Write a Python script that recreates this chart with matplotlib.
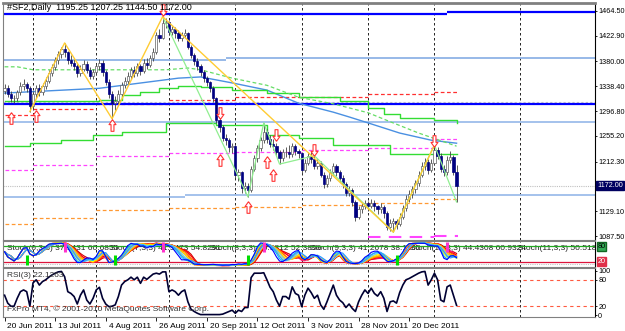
import numpy as np
import pandas as pd
import matplotlib
matplotlib.use("Agg")
import matplotlib.pyplot as plt
from matplotlib.transforms import blended_transform_factory, ScaledTranslation

plt.rcParams['font.family'] = ['Liberation Sans', 'DejaVu Sans']
plt.rcParams['font.size'] = 6

# daily bars of #SF2, 20 Jun 2011 .. 12 Jan 2012
opens = [1330, 1335, 1325, 1318, 1318, 1328, 1338, 1342, 1336, 1305,
         1325, 1335, 1328, 1338, 1348, 1360, 1370, 1382, 1392, 1400,
         1395, 1382, 1378, 1372, 1360, 1368, 1376, 1365, 1356, 1362,
         1372, 1378, 1362, 1345, 1325, 1310, 1314, 1325, 1340, 1348,
         1355, 1365, 1360, 1372, 1364, 1378, 1374, 1385, 1395, 1425,
         1420, 1445, 1446, 1430, 1434, 1428, 1420, 1425, 1428, 1405,
         1390, 1380, 1372, 1362, 1352, 1345, 1335, 1318, 1282, 1270,
         1252, 1248, 1236, 1238, 1190, 1194, 1168, 1172, 1165, 1200,
         1218, 1235, 1248, 1262, 1250, 1242, 1238, 1228, 1218, 1228,
         1228, 1225, 1238, 1230, 1226, 1198, 1210, 1222, 1216, 1205,
         1210, 1190, 1175, 1185, 1195, 1205, 1195, 1185, 1175, 1160,
         1165, 1145, 1120, 1132, 1138, 1142, 1138, 1143, 1137, 1132,
         1136, 1126, 1102, 1110, 1112, 1108, 1120, 1135, 1150, 1158,
         1166, 1176, 1190, 1205, 1212, 1198, 1210, 1232, 1222, 1200,
         1195, 1215, 1220, 1195.25]
highs = [1342, 1340, 1330, 1324, 1332, 1345, 1350, 1346, 1338, 1330,
         1340, 1342, 1344, 1354, 1366, 1376, 1388, 1398, 1405, 1411,
         1398, 1390, 1384, 1376, 1374, 1382, 1380, 1370, 1368, 1378,
         1384, 1382, 1366, 1350, 1330, 1322, 1332, 1345, 1354, 1362,
         1370, 1372, 1378, 1376, 1384, 1386, 1390, 1402, 1430, 1434,
         1455, 1452, 1448, 1440, 1438, 1432, 1430, 1434, 1430, 1408,
         1394, 1385, 1376, 1366, 1356, 1348, 1338, 1320, 1286, 1274,
         1258, 1252, 1244, 1240, 1200, 1196, 1178, 1176, 1204, 1224,
         1240, 1254, 1277, 1266, 1256, 1250, 1244, 1232, 1234, 1236,
         1240, 1243, 1242, 1234, 1228, 1216, 1228, 1230, 1222, 1216,
         1214, 1194, 1190, 1200, 1210, 1208, 1198, 1190, 1178, 1172,
         1168, 1148, 1138, 1144, 1148, 1146, 1150, 1147, 1140, 1142,
         1140, 1130, 1116, 1118, 1116, 1126, 1140, 1156, 1164, 1172,
         1182, 1196, 1212, 1218, 1216, 1216, 1240, 1236, 1226, 1206,
         1222, 1230, 1224, 1207.25]
lows = [1325, 1320, 1312, 1310, 1314, 1324, 1332, 1328, 1296, 1300,
        1318, 1322, 1324, 1334, 1344, 1355, 1366, 1376, 1386, 1388,
        1376, 1372, 1366, 1354, 1356, 1364, 1360, 1350, 1350, 1358,
        1366, 1356, 1340, 1318, 1284, 1298, 1308, 1320, 1336, 1342,
        1350, 1354, 1356, 1358, 1360, 1368, 1370, 1380, 1392, 1412,
        1418, 1436, 1424, 1424, 1420, 1414, 1415, 1420, 1400, 1385,
        1374, 1366, 1356, 1346, 1338, 1328, 1312, 1276, 1262, 1246,
        1240, 1228, 1226, 1184, 1180, 1160, 1160, 1153, 1162, 1196,
        1212, 1230, 1244, 1244, 1236, 1232, 1222, 1208, 1214, 1220,
        1218, 1220, 1224, 1218, 1192, 1194, 1206, 1210, 1200, 1200,
        1186, 1168, 1170, 1180, 1190, 1188, 1178, 1168, 1154, 1155,
        1138, 1112, 1116, 1126, 1132, 1130, 1134, 1130, 1124, 1126,
        1118, 1098, 1096, 1094, 1100, 1104, 1116, 1130, 1145, 1152,
        1160, 1172, 1186, 1198, 1192, 1194, 1206, 1216, 1194, 1188,
        1190, 1210, 1190, 1144.5]
closes = [1335, 1325, 1318, 1318, 1328, 1338, 1342, 1336, 1305, 1325,
          1335, 1328, 1338, 1348, 1360, 1370, 1382, 1392, 1400, 1395,
          1382, 1378, 1372, 1360, 1368, 1376, 1365, 1356, 1362, 1372,
          1378, 1362, 1345, 1325, 1310, 1314, 1325, 1340, 1348, 1355,
          1365, 1360, 1372, 1364, 1378, 1374, 1385, 1395, 1425, 1420,
          1445, 1446, 1430, 1434, 1428, 1420, 1425, 1428, 1405, 1390,
          1380, 1372, 1362, 1352, 1345, 1335, 1318, 1282, 1270, 1252,
          1248, 1236, 1238, 1190, 1194, 1168, 1172, 1165, 1200, 1218,
          1235, 1248, 1262, 1250, 1242, 1238, 1228, 1218, 1228, 1228,
          1225, 1238, 1230, 1226, 1198, 1210, 1222, 1216, 1205, 1210,
          1190, 1175, 1185, 1195, 1205, 1195, 1185, 1175, 1160, 1165,
          1145, 1120, 1132, 1138, 1142, 1138, 1143, 1137, 1132, 1136,
          1126, 1102, 1110, 1112, 1108, 1120, 1135, 1150, 1158, 1166,
          1176, 1190, 1205, 1212, 1198, 1210, 1232, 1222, 1200, 1195,
          1215, 1220, 1195.25, 1172]

rsi = [45, 27, 20, 20, 38, 53, 57, 53, 20, 73,
       80, 68, 76, 80, 86, 91, 95, 98, 99, 87,
       53, 49, 42, 25, 45, 57, 34, 25, 38, 57,
       63, 38, 25, 19, 20, 23, 42, 68, 76, 80,
       86, 80, 86, 72, 86, 81, 87, 93, 95, 93,
       98, 98, 53, 57, 53, 45, 53, 57, 30, 13,
       8, 4, 1, 1, 1, 1, 1, 1, 1, 2,
       5, 8, 11, 4, 11, 8, 17, 17, 85, 95,
       95, 95, 96, 80, 63, 53, 34, 20, 42, 42,
       36, 64, 49, 45, 19, 45, 61, 51, 38, 45,
       23, 13, 30, 49, 68, 45, 34, 28, 17, 25,
       15, 8, 30, 45, 57, 49, 61, 49, 43, 53,
       38, 8, 30, 32, 27, 51, 68, 80, 83, 87,
       91, 95, 98, 99, 68, 80, 95, 80, 34, 30,
       64, 68, 45, 22]

date_idx = [0, 16, 32, 48, 64, 80, 96, 112, 128]
date_labels = ["20 Jun 2011", "13 Jul 2011", "4 Aug 2011", "26 Aug 2011", "20 Sep 2011",
               "12 Oct 2011", "3 Nov 2011", "28 Nov 2011", "20 Dec 2011"]
month_idx = [9, 29, 52, 73, 94, 115, 136, 163]
price_ticks = [1464.50, 1422.90, 1380.00, 1338.40, 1296.80, 1255.20, 1212.30, 1129.10, 1087.50]

# monthly levels (Jun .. Jan)
month_start = [0, 9, 29, 52, 73, 94, 115, 136]
month_end = [9, 29, 52, 73, 94, 115, 136, 143.5]
red_lvl = [1290, 1300, 1308, 1315, 1320, 1320, 1325, 1329]
magenta_lvl = [1198, 1206, 1221, 1226, 1229, 1232, 1235, 1250]
orange_lvl = [1108, 1118, 1131, 1134, 1136, 1139, 1143, 1150]
low_magenta_lvl = [1086, 1087.5]

# full-width levels
blue_lvl_top = [1460.3, 1462.0]
blue_lvl_mid = [1308.2, 1309.2]
blue_step = [-0.5, 140, 186.8]
lblue_top = [1382.4, 1385.0]
lblue_top_step = [-0.5, 70, 186.8]
lblue_mid = 1278.5
lblue_low = [1152.8, 1156.2]
lblue_low_step = [-0.5, 57, 186.8]
ask_lvl = 1312.5

# moving averages
ma_blue_idx = [0, 30, 55, 62, 72, 83, 93, 104, 109, 115, 125, 135, 143]
ma_blue = [1327, 1335, 1352, 1354, 1344, 1332, 1310, 1295, 1287, 1277, 1260, 1248, 1243]
green_up_idx = [0, 30, 37, 43, 49, 55, 62, 72, 83, 93, 106, 115, 120, 125, 136, 143]
green_up = [1314, 1315, 1324, 1329, 1335, 1339, 1337, 1332, 1327, 1320, 1314, 1302, 1292, 1285, 1282, 1277]
green_lo_idx = [0, 8, 18, 28, 37, 51, 67, 83, 93, 104, 122, 143]
green_lo = [1238, 1243, 1248, 1257, 1262, 1277, 1274, 1257, 1252, 1240, 1225, 1225]
green_dash_idx = [0, 4, 9, 51, 58, 62, 72, 83, 93, 104, 115, 122, 131, 143]
green_dash = [1371, 1371, 1366, 1366, 1369, 1366, 1352, 1340, 1320, 1309, 1294, 1279, 1260, 1238]

# zigzags (pivot bars)
yellow_piv = [8, 19, 34, 50, 123, 136]
yellow_kind = "LHLHLH"
lgreen_piv = [50, 77, 82, 87, 98, 123, 136, 143]
lgreen_kind = "HLHLHLHL"

# arrow signals
up_sig_idx = [2, 10, 34, 68, 77, 83, 85]
up_sig_price = [1285, 1289, 1274, 1215, 1136, 1212, 1190]
dn_sig_idx = [50, 68, 86, 98, 136]
dn_sig_price = [1466, 1294, 1257, 1232, 1246]

# stochastic pane
stoch_periods = [6, 7, 8, 9, 10, 11]
stoch_k_colors = ['#0000ff', '#00bfff', '#ffff00', '#ffa500', '#ff4500', '#ff1493']
stoch_d_colors = ['#3399ff', '#66ccff', '#ffd700', '#ff8c00', '#ff0000', '#cc0000']
stoch_text = ["Stoch(6,3,3) 37.1431 60.6855", "Stoch(7,3,3) 41.3473 54.8291",
              "Stoch(8,3,3) 46.5812 52.3859", "Stoch(9,3,3) 41.2678 38.1165",
              "Stoch(10,3,3) 44.4308 60.9324", "Stoch(11,3,3) 50.5189 61.2277"]
stoch_text_x = [0.007, 0.181, 0.350, 0.519, 0.688, 0.870]
sig_green_idx = [7, 35, 77, 124]
sig_magenta_idx = [19, 50, 82, 140]

W, H = 625, 331
fig = plt.figure(figsize=(W / 100, H / 100), dpi=100)


def box(l, t, r, b):
    return [l / W, 1 - b / H, (r - l) / W, (b - t) / H]


ax = fig.add_axes(box(3, 3, 595, 240))
ax_st = fig.add_axes(box(3, 241, 595, 267))
ax_rsi = fig.add_axes(box(3, 268, 595, 317))
xlim = (-0.5, 186.8)

for a in (ax, ax_st, ax_rsi):
    a.set_xlim(*xlim)
    a.yaxis.tick_right()
    a.tick_params(axis='y', length=1.5, width=0.6, pad=0.8, labelsize=5.2, colors='black')
    a.tick_params(axis='x', bottom=False, labelbottom=False)
    for s in a.spines.values():
        s.set_color('#808080')
        s.set_linewidth(0.8)
    a.spines['right'].set_color('black')
    for m in month_idx:
        a.axvline(m, color='black', lw=0.6, ls=(0, (3, 3)), zorder=1)
ax.spines['top'].set_linewidth(2)

# ---- main pane ----
x = np.arange(len(closes))
o = np.array(opens)
c = np.array(closes)
hi = np.array(highs)
lo = np.array(lows)
ax.set_ylim(1080.8, 1477.9)

ax.hlines(red_lvl, month_start, month_end, colors='#ff3030', linestyles=(0, (3, 2)), lw=0.9, zorder=2)
ax.hlines(magenta_lvl, month_start, month_end, colors='#ff44ff', linestyles=(0, (3, 2)), lw=0.9, zorder=2)
ax.hlines(orange_lvl, month_start, month_end, colors='#ff9933', linestyles=(0, (3, 2)), lw=0.9, zorder=2)
ax.hlines(low_magenta_lvl, month_start[-2:], month_end[-2:], colors='#ff44ff', linestyles=(0, (6, 4)), lw=1.5, zorder=2)

ax.axhline(ask_lvl, color='#c8c8c8', lw=0.8, ls=(0, (2, 2)), zorder=1)
ax.axhline(closes[-1], color='#c0c0c0', lw=0.8, ls=(0, (1, 1)), zorder=1)
ax.axhline(lblue_mid, color='#9dbdea', lw=1.3, zorder=2)
ax.hlines(lblue_top, lblue_top_step[:-1], lblue_top_step[1:], colors='#8fb3e6', lw=1.3, zorder=2)
ax.hlines(lblue_low, lblue_low_step[:-1], lblue_low_step[1:], colors='#9dbdea', lw=1.3, zorder=2)
ax.hlines(blue_lvl_top, blue_step[:-1], blue_step[1:], colors='#0000ff', lw=1.6, zorder=2)
ax.hlines(blue_lvl_mid, blue_step[:-1], blue_step[1:], colors='#0000ff', lw=1.6, zorder=2)

ax.plot(ma_blue_idx, ma_blue, color='#4a90e2', lw=1, zorder=2)
ax.plot(green_up_idx, green_up, color='#33dd33', lw=1, drawstyle='steps-post', zorder=2)
ax.plot(green_lo_idx, green_lo, color='#33dd33', lw=1, drawstyle='steps-post', zorder=2)
ax.plot(green_dash_idx, green_dash, color='#66dd66', lw=0.9, ls=(0, (3, 2)), zorder=2)

# candles
up = c >= o
ax.vlines(x, lo, hi, color='#404040', lw=0.6, zorder=3)
ax.bar(x[up], c[up] - o[up], bottom=o[up], width=0.7, color='white', edgecolor='#606060', lw=0.5, zorder=4)
ax.bar(x[~up], o[~up] - c[~up], bottom=c[~up], width=0.7, color='#000080', edgecolor='#000080', lw=0.5, zorder=4)


def zigzag(piv, kinds):
    return [lows[i] if k == 'L' else highs[i] for i, k in zip(piv, kinds)]


ax.plot(lgreen_piv, zigzag(lgreen_piv, lgreen_kind), color='#90ee90', lw=0.9, zorder=5)
ax.plot(yellow_piv, zigzag(yellow_piv, yellow_kind), color='#ffcc33', lw=1, zorder=5)

arrow_up = [(0, 1), (0.6, 0.15), (0.25, 0.15), (0.25, -1), (-0.25, -1), (-0.25, 0.15), (-0.6, 0.15), (0, 1)]
arrow_dn = [(px, -py) for px, py in arrow_up]
ax.scatter(up_sig_idx, up_sig_price, marker=arrow_up, s=70, facecolor='white', edgecolor='#ff3333', lw=0.8, zorder=6)
ax.scatter(dn_sig_idx, dn_sig_price, marker=arrow_dn, s=70, facecolor='white', edgecolor='#ff3333', lw=0.8, zorder=6)

ax.set_yticks(price_ticks)
ax.set_yticklabels(["%.2f" % p for p in price_ticks])
tr = blended_transform_factory(ax.transAxes, ax.transData)
ax.text(1.004, closes[-1], "%.2f" % closes[-1], transform=tr, color='white', fontsize=5.2, va='center', ha='left',
        bbox=dict(facecolor='#000060', edgecolor='#000060', pad=0.7), clip_on=False)
ax.text(0.006, 0.983, "#SF2,Daily  1195.25 1207.25 1144.50 1172.00", transform=ax.transAxes,
        fontsize=6.5, va='center', ha='left', color='black', zorder=7)

# ---- stochastic pane ----
ax_st.set_ylim(-1, 101)
ax_st.set_yticks([])
hs, ls_, cs = pd.Series(highs), pd.Series(lows), pd.Series(closes)
for t, tx in zip(stoch_text, stoch_text_x):
    ax_st.text(tx, 0.72, t, transform=ax_st.transAxes, fontsize=6, color='#202020', va='center', ha='left', zorder=1, clip_on=True)
ax_st.axhline(80, color='#22aa22', lw=0.9, zorder=2)
ax_st.axhline(20, color='#dc143c', lw=0.9, zorder=2)
ax_st.axhline(10, color='#c0c0c0', lw=0.8, ls=(0, (1, 1)), zorder=2)
for n, ck, cd in reversed(list(zip(stoch_periods, stoch_k_colors, stoch_d_colors))):
    ll = ls_.rolling(n, min_periods=1).min()
    hh = hs.rolling(n, min_periods=1).max()
    k = 100 * (cs - ll).rolling(3, min_periods=1).sum() / (hh - ll).rolling(3, min_periods=1).sum()
    d = k.rolling(3, min_periods=1).mean()
    ax_st.plot(x, d, color=cd, lw=0.8, zorder=3)
    ax_st.plot(x, k, color=ck, lw=0.8, zorder=3)
ax_st.vlines(sig_green_idx, 8, 46, colors='#00dd00', lw=2.2, zorder=4)
ax_st.vlines(sig_magenta_idx, 58, 98, colors='#ff33cc', lw=2.2, zorder=4)
tr_st = blended_transform_factory(ax_st.transAxes, ax_st.transData)
ax_st.text(1.004, 80, "80", transform=tr_st, fontsize=5.2, color='black', va='center', ha='left',
           bbox=dict(facecolor='#33aa55', edgecolor='#116622', pad=0.6), clip_on=False)
ax_st.text(1.004, 20, "20", transform=tr_st, fontsize=5.2, color='white', va='center', ha='left',
           bbox=dict(facecolor='#e0304a', edgecolor='#e0304a', pad=0.6), clip_on=False)

# ---- RSI pane ----
ax_rsi.set_ylim(-4.5, 106.8)
ax_rsi.axhline(80, color='#ff5a40', lw=0.8, ls=(0, (3, 3)), zorder=2)
ax_rsi.axhline(20, color='#ff5a40', lw=0.8, ls=(0, (3, 3)), zorder=2)
ax_rsi.plot(x, rsi, color='#000033', lw=1.2, zorder=3)
ax_rsi.set_yticks([100, 80, 20, 0])
ax_rsi.set_yticklabels(["100", "80", "20", "0"])
ax_rsi.text(0.006, 0.84, "RSI(3) 22.1263", transform=ax_rsi.transAxes, fontsize=6, color='#333333', va='center', ha='left')
ax_rsi.text(0.006, 0.17, "FxPro MT4, \u00a9 2001-2010 MetaQuotes Software Corp.", transform=ax_rsi.transAxes,
            fontsize=6, color='#333333', va='center', ha='left')
ax_rsi.set_xticks(date_idx)
ax_rsi.set_xticklabels(date_labels)
ax_rsi.tick_params(axis='x', bottom=True, labelbottom=True, length=3, width=0.6, pad=1.5, labelsize=6)
shift = ScaledTranslation(2 / 72, 0, fig.dpi_scale_trans)
for lbl in ax_rsi.get_xticklabels():
    lbl.set_horizontalalignment('left')
    lbl.set_transform(lbl.get_transform() + shift)

fig.savefig("out.png", dpi=100, facecolor='white')
